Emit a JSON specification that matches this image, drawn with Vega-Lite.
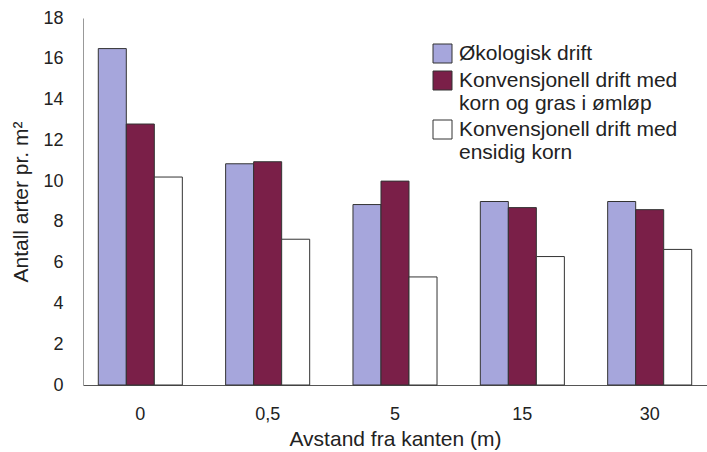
{
  "$schema": "https://vega.github.io/schema/vega-lite/v6.json",
  "autosize": "none",
  "width": 624,
  "height": 367,
  "padding": {"left": 83, "top": 18, "right": 0, "bottom": 67},
  "background": "white",
  "config": {
    "font": "Liberation Sans",
    "view": {"stroke": null},
    "axis": {"labelColor": "#222", "titleColor": "#222", "labelFont": "Liberation Sans", "titleFont": "Liberation Sans", "titleFontWeight": "normal"},
    "legend": {"labelFont": "Liberation Sans"}
  },
  "data": {
    "values": [
      {"avstand": "0", "drift": "Økologisk drift", "arter": 16.5},
      {"avstand": "0", "drift": "Konvensjonell drift med|korn og gras i ømløp", "arter": 12.8},
      {"avstand": "0", "drift": "Konvensjonell drift med|ensidig korn", "arter": 10.2},
      {"avstand": "0,5", "drift": "Økologisk drift", "arter": 10.85},
      {"avstand": "0,5", "drift": "Konvensjonell drift med|korn og gras i ømløp", "arter": 10.95},
      {"avstand": "0,5", "drift": "Konvensjonell drift med|ensidig korn", "arter": 7.15},
      {"avstand": "5", "drift": "Økologisk drift", "arter": 8.85},
      {"avstand": "5", "drift": "Konvensjonell drift med|korn og gras i ømløp", "arter": 10.0},
      {"avstand": "5", "drift": "Konvensjonell drift med|ensidig korn", "arter": 5.3},
      {"avstand": "15", "drift": "Økologisk drift", "arter": 9.0},
      {"avstand": "15", "drift": "Konvensjonell drift med|korn og gras i ømløp", "arter": 8.7},
      {"avstand": "15", "drift": "Konvensjonell drift med|ensidig korn", "arter": 6.3},
      {"avstand": "30", "drift": "Økologisk drift", "arter": 9.0},
      {"avstand": "30", "drift": "Konvensjonell drift med|korn og gras i ømløp", "arter": 8.6},
      {"avstand": "30", "drift": "Konvensjonell drift med|ensidig korn", "arter": 6.65}
    ]
  },
  "mark": {"type": "bar", "stroke": "#333", "strokeWidth": 1},
  "encoding": {
    "x": {
      "field": "avstand", "type": "nominal",
      "sort": ["0", "0,5", "5", "15", "30"],
      "scale": {"paddingInner": 0.34, "paddingOuter": 0.12},
      "axis": {
        "title": "Avstand fra kanten (m)", "labelAngle": 0, "ticks": false,
        "labelPadding": 20, "labelFontSize": 18, "titleFontSize": 21, "titlePadding": 5,
        "domainColor": "#555", "domainWidth": 1
      }
    },
    "xOffset": {
      "field": "drift", "type": "nominal",
      "sort": ["Økologisk drift", "Konvensjonell drift med|korn og gras i ømløp", "Konvensjonell drift med|ensidig korn"],
      "scale": {"paddingInner": 0, "paddingOuter": 0}
    },
    "y": {
      "field": "arter", "type": "quantitative",
      "scale": {"domain": [0, 18], "nice": false},
      "axis": {
        "title": "Antall arter pr. m²", "values": [0, 2, 4, 6, 8, 10, 12, 14, 16, 18],
        "grid": false, "ticks": false, "labelPadding": 20, "labelFontSize": 18,
        "titleFontSize": 21, "titlePadding": 11, "domainColor": "#999", "domainWidth": 1
      }
    },
    "fill": {
      "field": "drift", "type": "nominal",
      "scale": {
        "domain": ["Økologisk drift", "Konvensjonell drift med|korn og gras i ømløp", "Konvensjonell drift med|ensidig korn"],
        "range": ["#a6a6dc", "#7a1f48", "#ffffff"]
      },
      "legend": {
        "title": null, "orient": "none", "legendX": 349, "legendY": 25,
        "symbolType": "square", "symbolSize": 361, "symbolStrokeColor": "#333", "symbolStrokeWidth": 1,
        "symbolOpacity": 1, "labelFontSize": 21, "labelLimit": 400, "labelOffset": 6,
        "labelExpr": "split(datum.label, '|')", "rowPadding": 4, "labelColor": "#222"
      }
    }
  }
}
